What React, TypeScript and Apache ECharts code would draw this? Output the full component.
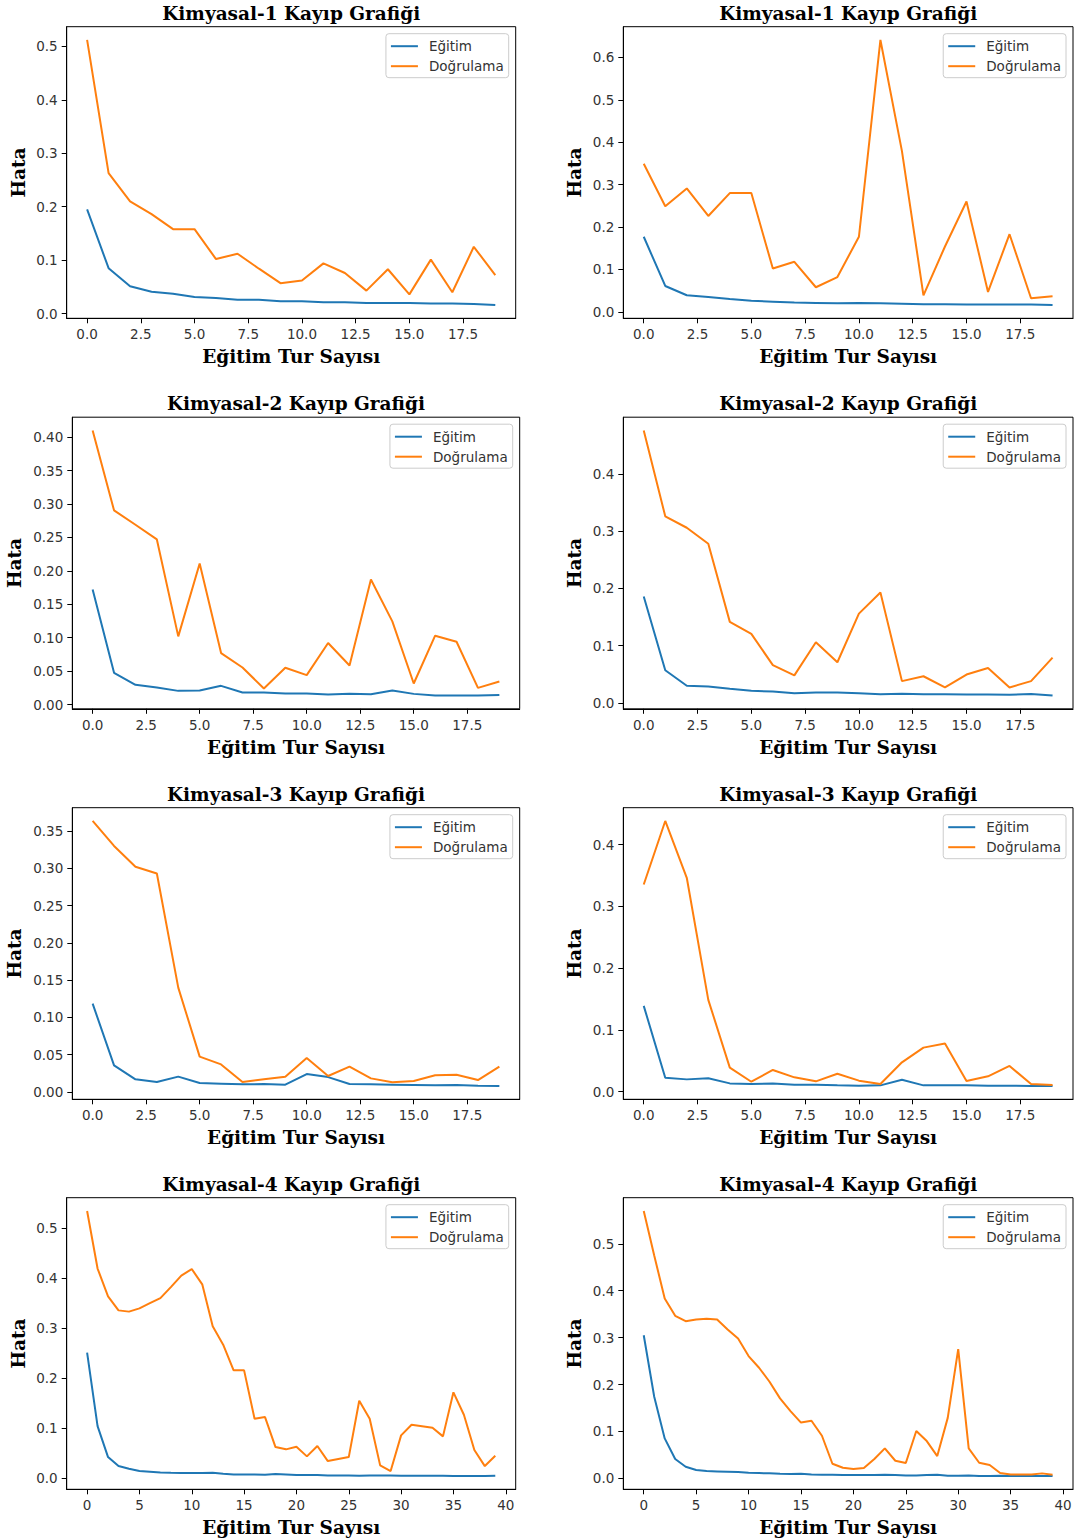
import React, { useEffect, useRef } from 'react';
import * as echarts from 'echarts';

// ---------------- data ----------------
const seriesNames = ['Eğitim', 'Doğrulama'];
const panelTitles = [
  'Kimyasal-1 Kayıp Grafiği', 'Kimyasal-1 Kayıp Grafiği',
  'Kimyasal-2 Kayıp Grafiği', 'Kimyasal-2 Kayıp Grafiği',
  'Kimyasal-3 Kayıp Grafiği', 'Kimyasal-3 Kayıp Grafiği',
  'Kimyasal-4 Kayıp Grafiği', 'Kimyasal-4 Kayıp Grafiği',
];
const xAxisTitle = 'Eğitim Tur Sayısı';
const yAxisTitle = 'Hata';

const k1aTrain = [0.195, 0.085, 0.051, 0.041, 0.037, 0.031, 0.029, 0.026, 0.026, 0.023, 0.023, 0.021, 0.021, 0.020, 0.020, 0.020, 0.019, 0.019, 0.018, 0.016];
const k1aVal = [0.512, 0.263, 0.210, 0.186, 0.158, 0.158, 0.102, 0.112, 0.084, 0.057, 0.062, 0.094, 0.076, 0.043, 0.083, 0.036, 0.101, 0.040, 0.125, 0.072];

const k1bTrain = [0.177, 0.061, 0.039, 0.035, 0.030, 0.026, 0.024, 0.022, 0.021, 0.020, 0.021, 0.020, 0.019, 0.018, 0.018, 0.017, 0.017, 0.017, 0.017, 0.016];
const k1bVal = [0.349, 0.249, 0.291, 0.226, 0.280, 0.280, 0.102, 0.118, 0.058, 0.082, 0.177, 0.641, 0.379, 0.039, 0.154, 0.260, 0.047, 0.183, 0.032, 0.037];

const k2aTrain = [0.172, 0.0475, 0.0295, 0.0255, 0.0205, 0.021, 0.028, 0.018, 0.018, 0.0165, 0.0165, 0.015, 0.016, 0.0155, 0.021, 0.016, 0.0135, 0.0135, 0.0135, 0.0145];
const k2aVal = [0.410, 0.2905, 0.269, 0.247, 0.102, 0.211, 0.077, 0.0555, 0.024, 0.055, 0.044, 0.092, 0.0585, 0.187, 0.1245, 0.0315, 0.103, 0.094, 0.025, 0.0345];

const k2bTrain = [0.186, 0.057, 0.030, 0.0285, 0.0245, 0.021, 0.020, 0.017, 0.018, 0.018, 0.017, 0.015, 0.016, 0.015, 0.015, 0.0145, 0.0145, 0.014, 0.0155, 0.0128];
const k2bVal = [0.476, 0.326, 0.306, 0.278, 0.1415, 0.1205, 0.066, 0.048, 0.106, 0.071, 0.156, 0.193, 0.038, 0.0465, 0.027, 0.0495, 0.061, 0.027, 0.038, 0.079];

const k3aTrain = [0.1185, 0.0358, 0.017, 0.0134, 0.0206, 0.012, 0.0112, 0.0103, 0.0107, 0.0098, 0.0241, 0.020, 0.0107, 0.0103, 0.0098, 0.0094, 0.009, 0.0094, 0.0085, 0.008];
const k3aVal = [0.3635, 0.330, 0.302, 0.293, 0.140, 0.0474, 0.037, 0.0134, 0.017, 0.0206, 0.0456, 0.0215, 0.034, 0.0183, 0.013, 0.0148, 0.0224, 0.0232, 0.016, 0.034];

const k3bTrain = [0.139, 0.0227, 0.020, 0.0217, 0.0135, 0.0124, 0.0135, 0.0114, 0.0114, 0.0103, 0.0097, 0.0103, 0.0195, 0.0103, 0.0103, 0.0103, 0.0097, 0.0097, 0.0092, 0.0092];
const k3bVal = [0.3356, 0.4384, 0.3464, 0.1488, 0.039, 0.0162, 0.0352, 0.0233, 0.0168, 0.0292, 0.0179, 0.0124, 0.0476, 0.0714, 0.078, 0.0173, 0.0249, 0.0417, 0.0124, 0.0108];

const k4aTrain = [0.251, 0.1045, 0.0426, 0.0246, 0.0193, 0.0146, 0.0133, 0.012, 0.0113, 0.0107, 0.0107, 0.0107, 0.0113, 0.0093, 0.008, 0.008, 0.008, 0.0073, 0.0087, 0.008, 0.0067, 0.0067, 0.0067, 0.006, 0.006, 0.006, 0.0053, 0.006, 0.006, 0.006, 0.0053, 0.0053, 0.0053, 0.0053, 0.0053, 0.0047, 0.0047, 0.0047, 0.0047, 0.0053];
const k4aVal = [0.534, 0.419, 0.3635, 0.3355, 0.333, 0.3395, 0.350, 0.360, 0.382, 0.405, 0.418, 0.3875, 0.3036, 0.267, 0.2157, 0.2157, 0.119, 0.1225, 0.0626, 0.058, 0.0632, 0.044, 0.0646, 0.0346, 0.0386, 0.0426, 0.155, 0.119, 0.026, 0.0146, 0.0859, 0.107, 0.104, 0.101, 0.0839, 0.1718, 0.127, 0.0566, 0.0246, 0.0453];

const k4bTrain = [0.305, 0.174, 0.0852, 0.0412, 0.0249, 0.0178, 0.0156, 0.0149, 0.0142, 0.0135, 0.0121, 0.0114, 0.0107, 0.0099, 0.0092, 0.0099, 0.0085, 0.0078, 0.0078, 0.0071, 0.0071, 0.0071, 0.0071, 0.0078, 0.0071, 0.0064, 0.0064, 0.0071, 0.0078, 0.0057, 0.0057, 0.0064, 0.005, 0.005, 0.0057, 0.005, 0.005, 0.005, 0.005, 0.005];
const k4bVal = [0.570, 0.475, 0.3835, 0.3466, 0.335, 0.3388, 0.340, 0.3388, 0.3175, 0.298, 0.2607, 0.2358, 0.206, 0.1705, 0.1435, 0.119, 0.1229, 0.0909, 0.0312, 0.0227, 0.0199, 0.022, 0.0412, 0.064, 0.0376, 0.0327, 0.1009, 0.0795, 0.0476, 0.129, 0.2756, 0.064, 0.0334, 0.0284, 0.0114, 0.0085, 0.0085, 0.0085, 0.0107, 0.0078];

// tick labels
const xTicks20 = [0, 2.5, 5, 7.5, 10, 12.5, 15, 17.5];
const xTicks40 = [0, 5, 10, 15, 20, 25, 30, 35, 40];
const yTicks05 = [0, 0.1, 0.2, 0.3, 0.4, 0.5];
const yTicks06 = [0, 0.1, 0.2, 0.3, 0.4, 0.5, 0.6];
const yTicks04 = [0, 0.1, 0.2, 0.3, 0.4];
const yTicks040 = [0, 0.05, 0.1, 0.15, 0.2, 0.25, 0.3, 0.35, 0.4];
const yTicks035 = [0, 0.05, 0.1, 0.15, 0.2, 0.25, 0.3, 0.35];

const trainSets = [k1aTrain, k1bTrain, k2aTrain, k2bTrain, k3aTrain, k3bTrain, k4aTrain, k4bTrain];
const valSets = [k1aVal, k1bVal, k2aVal, k2bVal, k3aVal, k3bVal, k4aVal, k4bVal];
const xTickSets = [xTicks20, xTicks20, xTicks20, xTicks20, xTicks20, xTicks20, xTicks40, xTicks40];
const xDecimals = [1, 1, 1, 1, 1, 1, 0, 0];
const yTickSets = [yTicks05, yTicks06, yTicks040, yTicks04, yTicks035, yTicks04, yTicks05, yTicks05];
const yDecimals = [1, 1, 2, 1, 2, 1, 1, 1];

// ---------------- layout ----------------
const W = 1076;
const H = 1540;
const rowTops = [26.7, 417.2, 807.7, 1197.7];
const boxH = 291.6;
const leftColL = [66.7, 72.3, 72.3, 66.7];
const leftColR = [515.7, 519.7, 519.7, 515.7];
const rightColL = 623.3;
const rightColR = 1073;

const BLUE = '#1f77b4';
const ORANGE = '#ff7f0e';
const SERIF = '"DejaVu Serif", serif';
const SANS = '"DejaVu Sans", sans-serif';

function padRange(a: number[], b: number[]): [number, number] {
  const all = a.concat(b);
  const lo = Math.min(...all);
  const hi = Math.max(...all);
  const p = (hi - lo) * 0.05;
  return [lo - p, hi + p];
}

function buildOption() {
  const grid: any[] = [];
  const xAxis: any[] = [];
  const yAxis: any[] = [];
  const series: any[] = [];
  const title: any[] = [];
  const legend: any[] = [];

  for (let k = 0; k < 8; k++) {
    const row = Math.floor(k / 2);
    const col = k % 2;
    const l = col === 0 ? leftColL[row] : rightColL;
    const r = col === 0 ? leftColR[row] : rightColR;
    const t = rowTops[row];
    const train = trainSets[k];
    const val = valSets[k];
    const n = train.length;
    const xr: [number, number] = [-(n - 1) * 0.05, (n - 1) * 1.05];
    const yr = padRange(train, val);
    const xd = xDecimals[k];
    const yd = yDecimals[k];
    const yNameGap = yd === 2 ? 48 : 39;

    grid.push({
      left: l, top: t, width: r - l, height: boxH,
      show: true, borderColor: '#000', borderWidth: 1, backgroundColor: 'transparent',
      containLabel: false, outerBoundsMode: 'none',
    });

    xAxis.push({
      type: 'value', gridIndex: k, min: xr[0], max: xr[1],
      name: xAxisTitle, nameLocation: 'middle', nameGap: 29,
      nameTextStyle: { fontFamily: SERIF, fontWeight: 'bold', fontSize: 18.5, color: '#000' },
      axisLine: { show: true, onZero: false, lineStyle: { color: '#000', width: 1 } },
      axisTick: { show: true, length: 5, customValues: xTickSets[k], lineStyle: { color: '#000', width: 1 } },
      axisLabel: {
        customValues: xTickSets[k], margin: 9, fontFamily: SANS, fontSize: 13.5, color: '#333333',
        formatter: (v: number) => v.toFixed(xd),
      },
      splitLine: { show: false },
    });

    yAxis.push({
      type: 'value', gridIndex: k, min: yr[0], max: yr[1],
      name: yAxisTitle, nameLocation: 'middle', nameGap: yNameGap,
      nameTextStyle: { fontFamily: SERIF, fontWeight: 'bold', fontSize: 18.5, color: '#000' },
      axisLine: { show: true, onZero: false, lineStyle: { color: '#000', width: 1 } },
      axisTick: { show: true, length: 5, customValues: yTickSets[k], lineStyle: { color: '#000', width: 1 } },
      axisLabel: {
        customValues: yTickSets[k], margin: 9, fontFamily: SANS, fontSize: 13.5, color: '#333333',
        formatter: (v: number) => v.toFixed(yd),
      },
      splitLine: { show: false },
    });

    const mk = (arr: number[]) => arr.map((v, i) => [i, v]);
    series.push({
      type: 'line', name: seriesNames[0], xAxisIndex: k, yAxisIndex: k,
      data: mk(train), symbol: 'none', silent: true,
      lineStyle: { color: BLUE, width: 2 }, itemStyle: { color: BLUE },
    });
    series.push({
      type: 'line', name: seriesNames[1], xAxisIndex: k, yAxisIndex: k,
      data: mk(val), symbol: 'none', silent: true,
      lineStyle: { color: ORANGE, width: 2 }, itemStyle: { color: ORANGE },
    });

    title.push({
      text: panelTitles[k],
      left: (l + r) / 2, top: t - 13.5,
      textAlign: 'center', textVerticalAlign: 'middle', padding: 0,
      textStyle: { fontFamily: SERIF, fontWeight: 'bold', fontSize: 18.5, color: '#000' },
    });

    legend.push({
      data: seriesNames,
      orient: 'vertical',
      right: W - (r - 7), top: t + 7,
      padding: [5, 5, 4, 5],
      icon: 'rect',
      itemWidth: 27, itemHeight: 2, itemGap: 5,
      backgroundColor: 'rgba(255,255,255,0.8)',
      borderColor: '#cccccc', borderWidth: 1, borderRadius: 3,
      selectedMode: false,
      textStyle: { fontFamily: SANS, fontSize: 13.5, lineHeight: 15, color: '#333333', padding: [0, 0, 0, 6] },
    });
  }

  return {
    animation: false,
    backgroundColor: '#ffffff',
    grid, xAxis, yAxis, series, title, legend,
  };
}

export default function App() {
  const ref = useRef<HTMLDivElement>(null);
  useEffect(() => {
    document.body.style.margin = '0';
    if (!ref.current) return;
    const chart = echarts.init(ref.current, null, { renderer: 'svg' });
    chart.setOption(buildOption() as any);
    return () => chart.dispose();
  }, []);
  return <div ref={ref} style={{ width: W, height: H }} />;
}
